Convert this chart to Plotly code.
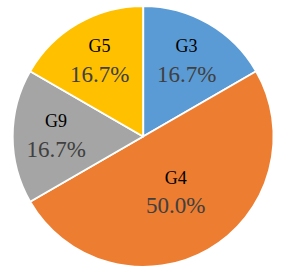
import plotly.graph_objects as go

labels = ["G3", "G4", "G9", "G5"]
values = [1, 3, 1, 1]
colors = ["#5B9BD5", "#ED7D31", "#A5A5A5", "#FFC000"]

serif = "Liberation Serif"

fig = go.Figure(go.Pie(
    labels=labels,
    values=values,
    sort=False,
    direction="clockwise",
    rotation=0,
    marker=dict(colors=colors, line=dict(color="white", width=2)),
    textposition="inside",
    insidetextorientation="horizontal",
    texttemplate="<span style='font-size:18px;color:#000000'>%{label}</span><br>%{percent:.1%}",
    insidetextfont=dict(family=serif, size=23, color="#404040"),
    hoverinfo="label+percent",
    domain=dict(x=[0.043, 0.972], y=[0.022, 0.978]),
))
fig.update_layout(
    width=282, height=273,
    margin=dict(l=0, r=0, t=0, b=0),
    showlegend=False,
    paper_bgcolor="white",
    font=dict(family=serif),
)
fig.write_html("out.html")
